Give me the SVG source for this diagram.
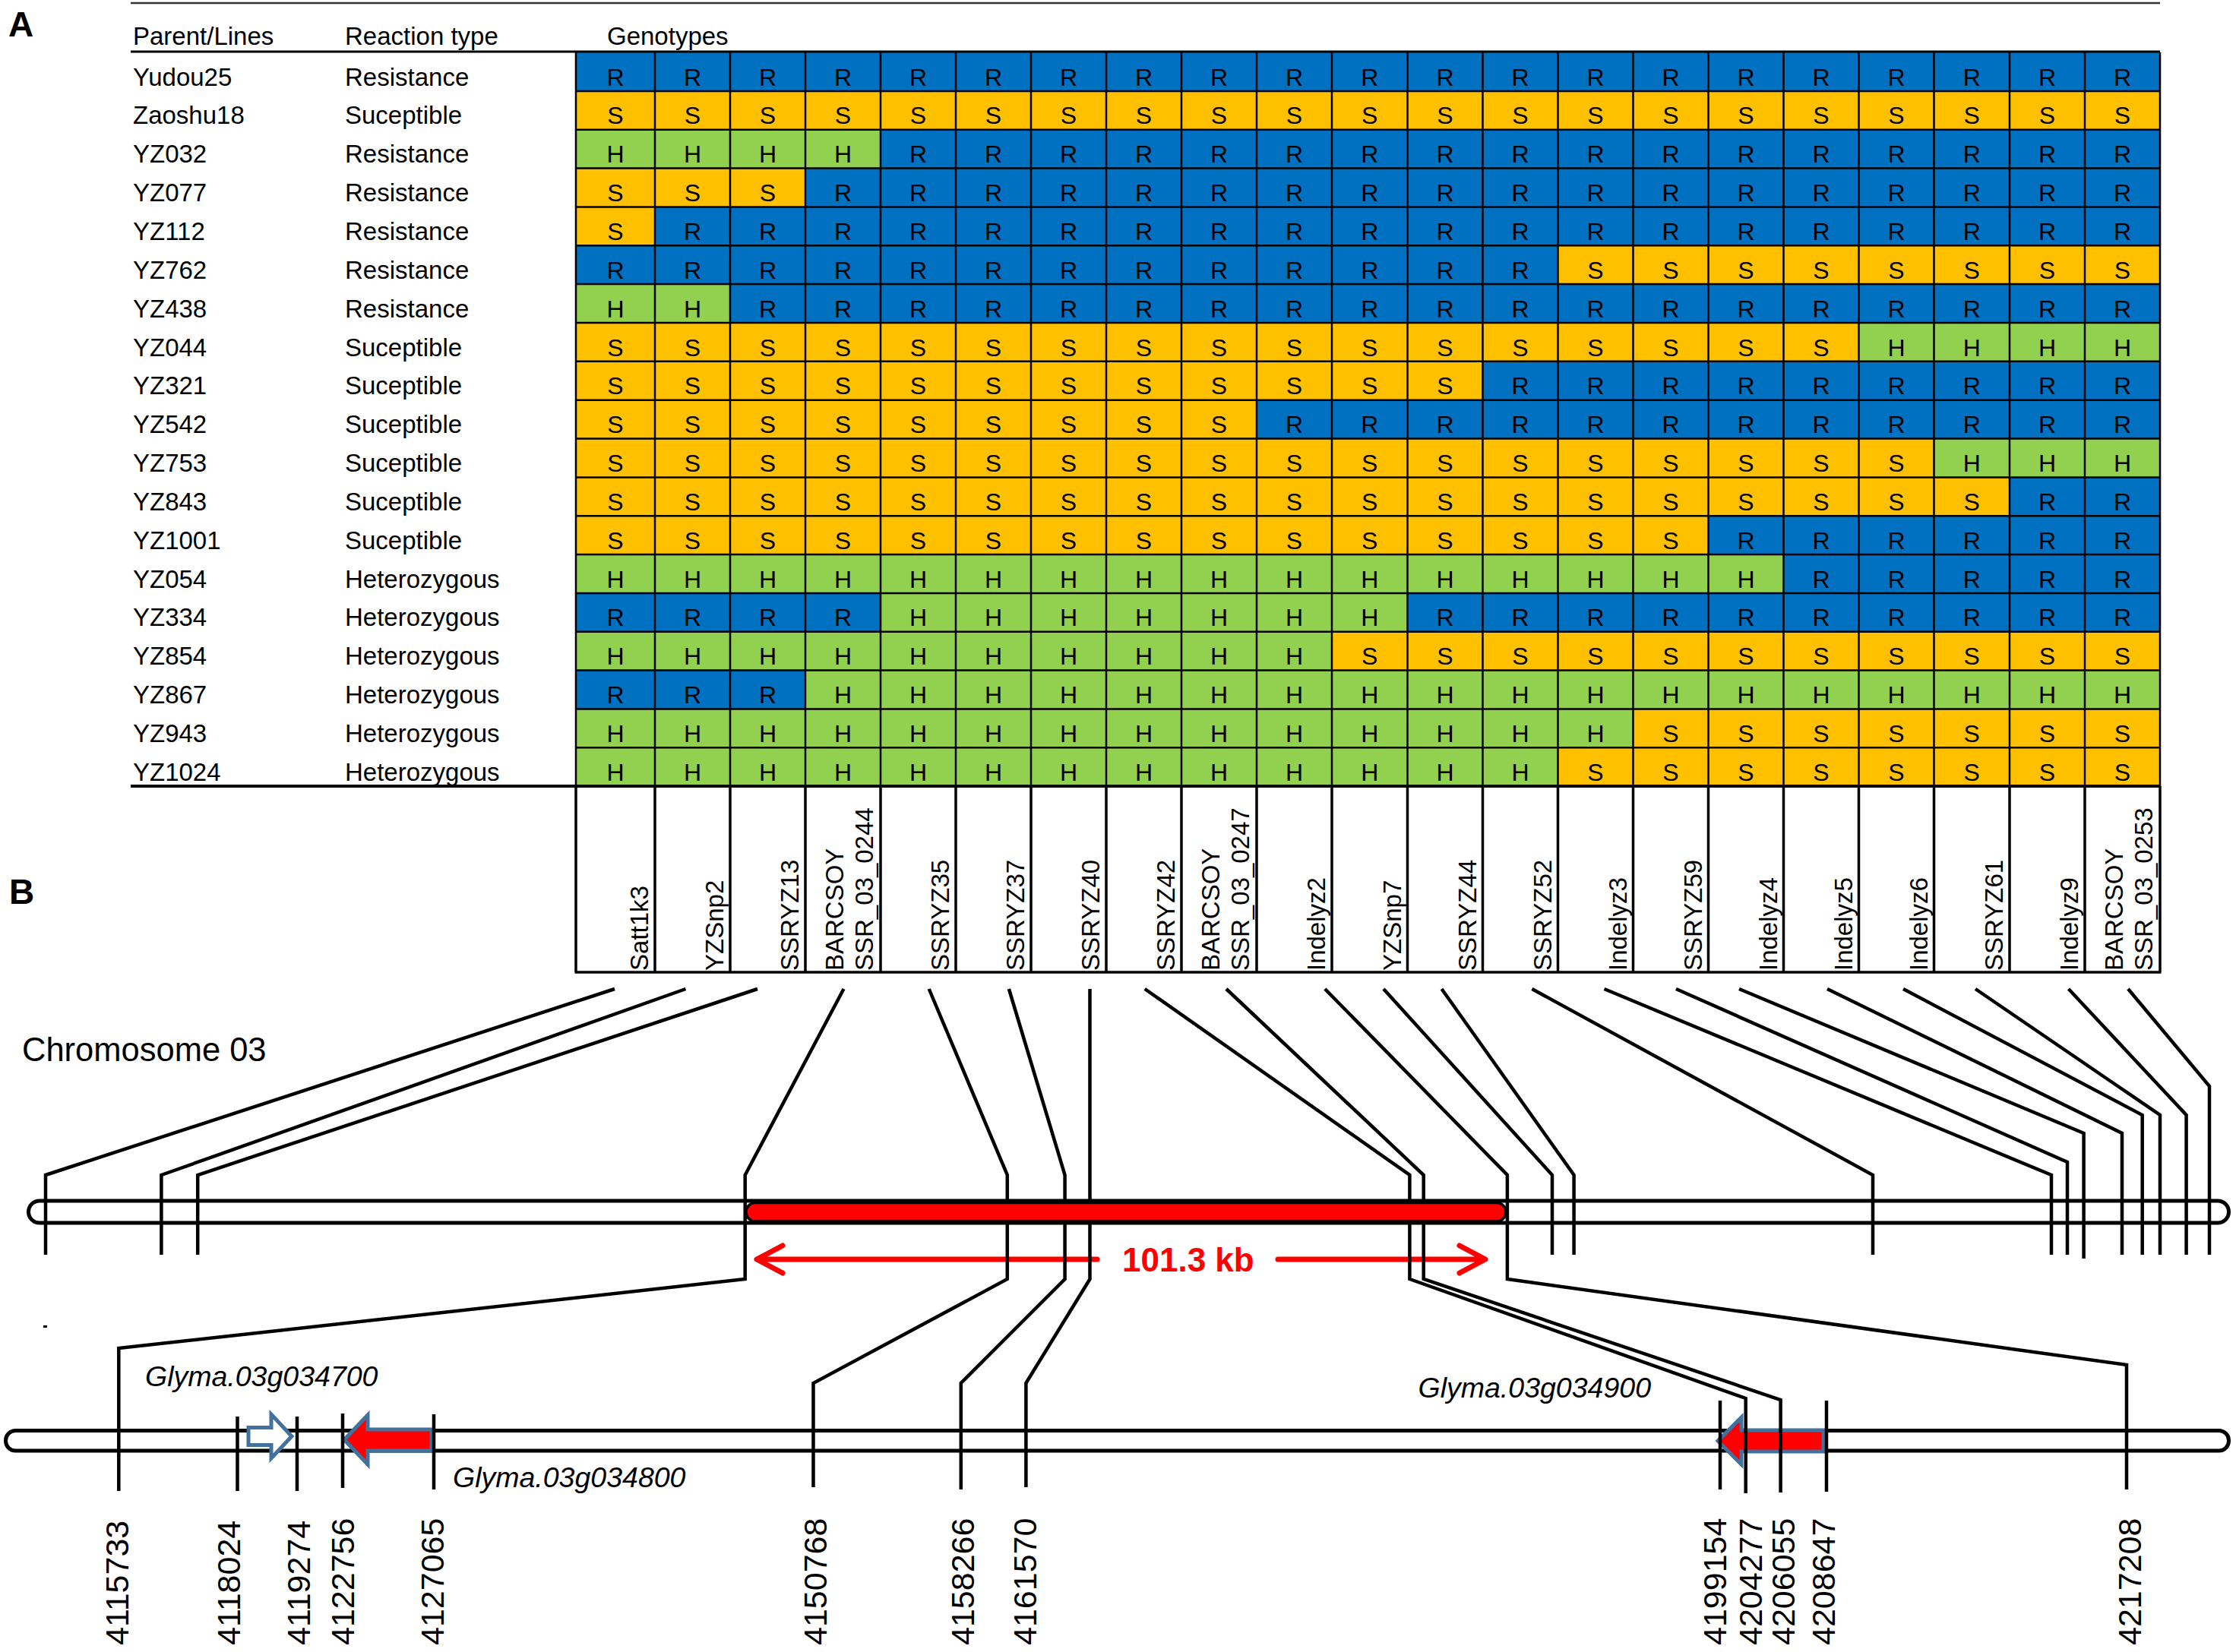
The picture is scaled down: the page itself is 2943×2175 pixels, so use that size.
<svg xmlns="http://www.w3.org/2000/svg" width="2943" height="2175" viewBox="0 0 2943 2175">
<style>
text{font-family:"Liberation Sans",Arial,sans-serif;fill:#000}
.lbl{font-size:33px}
.cell{font-size:32px;text-anchor:middle}
.mk{font-size:33px}
.pos{font-size:43px}
.gene{font-size:37.5px;font-style:italic}
.R{fill:#0070C0}.S{fill:#FFC000}.H{fill:#92D050}
.conn{fill:none;stroke:#000;stroke-width:4.5;stroke-linejoin:miter}
.grid{fill:none;stroke:#000;stroke-width:2.5}
.gene-arrow{stroke:#41719C;stroke-width:5;stroke-linejoin:miter}
</style>
<rect width="2943" height="2175" fill="#fff"/>
<text x="11" y="48" style="font-size:46px;font-weight:bold">A</text>
<text x="12" y="1190" style="font-size:46px;font-weight:bold">B</text>
<g id="header">
<line x1="172" y1="4" x2="2843" y2="4" stroke="#333" stroke-width="2.5"/>
<text class="lbl" x="175" y="59">Parent/Lines</text>
<text class="lbl" x="454" y="59">Reaction type</text>
<text class="lbl" x="799" y="59">Genotypes</text>
</g>
<g id="r1"><rect class="R" x="758" y="69" width="2085" height="50.9"/><text class="cell" x="810 911.5 1010.5 1109.5 1208.5 1307.5 1406.5 1505.5 1604.5 1703.5 1802.75 1902 2001 2100 2199 2298 2397 2496 2595.25 2694.5 2793.5" y="112.5">RRRRRRRRRRRRRRRRRRRRR</text><text class="lbl" x="175" y="112.5">Yudou25</text><text class="lbl" x="454" y="112.5">Resistance</text></g>
<g id="r2"><rect class="S" x="758" y="119.9" width="2085" height="50.9"/><text class="cell" x="810 911.5 1010.5 1109.5 1208.5 1307.5 1406.5 1505.5 1604.5 1703.5 1802.75 1902 2001 2100 2199 2298 2397 2496 2595.25 2694.5 2793.5" y="163.4">SSSSSSSSSSSSSSSSSSSSS</text><text class="lbl" x="175" y="163.4">Zaoshu18</text><text class="lbl" x="454" y="163.4">Suceptible</text></g>
<g id="r3"><rect class="H" x="758" y="170.7" width="401" height="50.9"/><rect class="R" x="1159" y="170.7" width="1684" height="50.9"/><text class="cell" x="810 911.5 1010.5 1109.5 1208.5 1307.5 1406.5 1505.5 1604.5 1703.5 1802.75 1902 2001 2100 2199 2298 2397 2496 2595.25 2694.5 2793.5" y="214.2">HHHHRRRRRRRRRRRRRRRRR</text><text class="lbl" x="175" y="214.2">YZ032</text><text class="lbl" x="454" y="214.2">Resistance</text></g>
<g id="r4"><rect class="S" x="758" y="221.6" width="302" height="50.9"/><rect class="R" x="1060" y="221.6" width="1783" height="50.9"/><text class="cell" x="810 911.5 1010.5 1109.5 1208.5 1307.5 1406.5 1505.5 1604.5 1703.5 1802.75 1902 2001 2100 2199 2298 2397 2496 2595.25 2694.5 2793.5" y="265.1">SSSRRRRRRRRRRRRRRRRRR</text><text class="lbl" x="175" y="265.1">YZ077</text><text class="lbl" x="454" y="265.1">Resistance</text></g>
<g id="r5"><rect class="S" x="758" y="272.4" width="104" height="50.9"/><rect class="R" x="862" y="272.4" width="1981" height="50.9"/><text class="cell" x="810 911.5 1010.5 1109.5 1208.5 1307.5 1406.5 1505.5 1604.5 1703.5 1802.75 1902 2001 2100 2199 2298 2397 2496 2595.25 2694.5 2793.5" y="315.9">SRRRRRRRRRRRRRRRRRRRR</text><text class="lbl" x="175" y="315.9">YZ112</text><text class="lbl" x="454" y="315.9">Resistance</text></g>
<g id="r6"><rect class="R" x="758" y="323.3" width="1292.5" height="50.9"/><rect class="S" x="2050.5" y="323.3" width="792.5" height="50.9"/><text class="cell" x="810 911.5 1010.5 1109.5 1208.5 1307.5 1406.5 1505.5 1604.5 1703.5 1802.75 1902 2001 2100 2199 2298 2397 2496 2595.25 2694.5 2793.5" y="366.8">RRRRRRRRRRRRRSSSSSSSS</text><text class="lbl" x="175" y="366.8">YZ762</text><text class="lbl" x="454" y="366.8">Resistance</text></g>
<g id="r7"><rect class="H" x="758" y="374.1" width="203" height="50.9"/><rect class="R" x="961" y="374.1" width="1882" height="50.9"/><text class="cell" x="810 911.5 1010.5 1109.5 1208.5 1307.5 1406.5 1505.5 1604.5 1703.5 1802.75 1902 2001 2100 2199 2298 2397 2496 2595.25 2694.5 2793.5" y="417.6">HHRRRRRRRRRRRRRRRRRRR</text><text class="lbl" x="175" y="417.6">YZ438</text><text class="lbl" x="454" y="417.6">Resistance</text></g>
<g id="r8"><rect class="S" x="758" y="425" width="1688.5" height="50.9"/><rect class="H" x="2446.5" y="425" width="396.5" height="50.9"/><text class="cell" x="810 911.5 1010.5 1109.5 1208.5 1307.5 1406.5 1505.5 1604.5 1703.5 1802.75 1902 2001 2100 2199 2298 2397 2496 2595.25 2694.5 2793.5" y="468.5">SSSSSSSSSSSSSSSSSHHHH</text><text class="lbl" x="175" y="468.5">YZ044</text><text class="lbl" x="454" y="468.5">Suceptible</text></g>
<g id="r9"><rect class="S" x="758" y="475.8" width="1193.5" height="50.9"/><rect class="R" x="1951.5" y="475.8" width="891.5" height="50.9"/><text class="cell" x="810 911.5 1010.5 1109.5 1208.5 1307.5 1406.5 1505.5 1604.5 1703.5 1802.75 1902 2001 2100 2199 2298 2397 2496 2595.25 2694.5 2793.5" y="519.3">SSSSSSSSSSSSRRRRRRRRR</text><text class="lbl" x="175" y="519.3">YZ321</text><text class="lbl" x="454" y="519.3">Suceptible</text></g>
<g id="r10"><rect class="S" x="758" y="526.7" width="896" height="50.9"/><rect class="R" x="1654" y="526.7" width="1189" height="50.9"/><text class="cell" x="810 911.5 1010.5 1109.5 1208.5 1307.5 1406.5 1505.5 1604.5 1703.5 1802.75 1902 2001 2100 2199 2298 2397 2496 2595.25 2694.5 2793.5" y="570.2">SSSSSSSSSRRRRRRRRRRRR</text><text class="lbl" x="175" y="570.2">YZ542</text><text class="lbl" x="454" y="570.2">Suceptible</text></g>
<g id="r11"><rect class="S" x="758" y="577.5" width="1787.5" height="50.9"/><rect class="H" x="2545.5" y="577.5" width="297.5" height="50.9"/><text class="cell" x="810 911.5 1010.5 1109.5 1208.5 1307.5 1406.5 1505.5 1604.5 1703.5 1802.75 1902 2001 2100 2199 2298 2397 2496 2595.25 2694.5 2793.5" y="621">SSSSSSSSSSSSSSSSSSHHH</text><text class="lbl" x="175" y="621">YZ753</text><text class="lbl" x="454" y="621">Suceptible</text></g>
<g id="r12"><rect class="S" x="758" y="628.4" width="1887" height="50.9"/><rect class="R" x="2645" y="628.4" width="198" height="50.9"/><text class="cell" x="810 911.5 1010.5 1109.5 1208.5 1307.5 1406.5 1505.5 1604.5 1703.5 1802.75 1902 2001 2100 2199 2298 2397 2496 2595.25 2694.5 2793.5" y="671.9">SSSSSSSSSSSSSSSSSSSRR</text><text class="lbl" x="175" y="671.9">YZ843</text><text class="lbl" x="454" y="671.9">Suceptible</text></g>
<g id="r13"><rect class="S" x="758" y="679.2" width="1490.5" height="50.9"/><rect class="R" x="2248.5" y="679.2" width="594.5" height="50.9"/><text class="cell" x="810 911.5 1010.5 1109.5 1208.5 1307.5 1406.5 1505.5 1604.5 1703.5 1802.75 1902 2001 2100 2199 2298 2397 2496 2595.25 2694.5 2793.5" y="722.7">SSSSSSSSSSSSSSSRRRRRR</text><text class="lbl" x="175" y="722.7">YZ1001</text><text class="lbl" x="454" y="722.7">Suceptible</text></g>
<g id="r14"><rect class="H" x="758" y="730.1" width="1589.5" height="50.9"/><rect class="R" x="2347.5" y="730.1" width="495.5" height="50.9"/><text class="cell" x="810 911.5 1010.5 1109.5 1208.5 1307.5 1406.5 1505.5 1604.5 1703.5 1802.75 1902 2001 2100 2199 2298 2397 2496 2595.25 2694.5 2793.5" y="773.6">HHHHHHHHHHHHHHHHRRRRR</text><text class="lbl" x="175" y="773.6">YZ054</text><text class="lbl" x="454" y="773.6">Heterozygous</text></g>
<g id="r15"><rect class="R" x="758" y="780.9" width="401" height="50.9"/><rect class="H" x="1159" y="780.9" width="693.5" height="50.9"/><rect class="R" x="1852.5" y="780.9" width="990.5" height="50.9"/><text class="cell" x="810 911.5 1010.5 1109.5 1208.5 1307.5 1406.5 1505.5 1604.5 1703.5 1802.75 1902 2001 2100 2199 2298 2397 2496 2595.25 2694.5 2793.5" y="824.4">RRRRHHHHHHHRRRRRRRRRR</text><text class="lbl" x="175" y="824.4">YZ334</text><text class="lbl" x="454" y="824.4">Heterozygous</text></g>
<g id="r16"><rect class="H" x="758" y="831.8" width="995" height="50.9"/><rect class="S" x="1753" y="831.8" width="1090" height="50.9"/><text class="cell" x="810 911.5 1010.5 1109.5 1208.5 1307.5 1406.5 1505.5 1604.5 1703.5 1802.75 1902 2001 2100 2199 2298 2397 2496 2595.25 2694.5 2793.5" y="875.3">HHHHHHHHHHSSSSSSSSSSS</text><text class="lbl" x="175" y="875.3">YZ854</text><text class="lbl" x="454" y="875.3">Heterozygous</text></g>
<g id="r17"><rect class="R" x="758" y="882.6" width="302" height="50.9"/><rect class="H" x="1060" y="882.6" width="1783" height="50.9"/><text class="cell" x="810 911.5 1010.5 1109.5 1208.5 1307.5 1406.5 1505.5 1604.5 1703.5 1802.75 1902 2001 2100 2199 2298 2397 2496 2595.25 2694.5 2793.5" y="926.1">RRRHHHHHHHHHHHHHHHHHH</text><text class="lbl" x="175" y="926.1">YZ867</text><text class="lbl" x="454" y="926.1">Heterozygous</text></g>
<g id="r18"><rect class="H" x="758" y="933.5" width="1391.5" height="50.9"/><rect class="S" x="2149.5" y="933.5" width="693.5" height="50.9"/><text class="cell" x="810 911.5 1010.5 1109.5 1208.5 1307.5 1406.5 1505.5 1604.5 1703.5 1802.75 1902 2001 2100 2199 2298 2397 2496 2595.25 2694.5 2793.5" y="977">HHHHHHHHHHHHHHSSSSSSS</text><text class="lbl" x="175" y="977">YZ943</text><text class="lbl" x="454" y="977">Heterozygous</text></g>
<g id="r19"><rect class="H" x="758" y="984.3" width="1292.5" height="50.9"/><rect class="S" x="2050.5" y="984.3" width="792.5" height="50.9"/><text class="cell" x="810 911.5 1010.5 1109.5 1208.5 1307.5 1406.5 1505.5 1604.5 1703.5 1802.75 1902 2001 2100 2199 2298 2397 2496 2595.25 2694.5 2793.5" y="1027.8">HHHHHHHHHHHHHSSSSSSSS</text><text class="lbl" x="175" y="1027.8">YZ1024</text><text class="lbl" x="454" y="1027.8">Heterozygous</text></g>
<g id="grid">
<path class="grid" d="M758 69V1035M862 69V1035M961 69V1035M1060 69V1035M1159 69V1035M1258 69V1035M1357 69V1035M1456 69V1035M1555 69V1035M1654 69V1035M1753 69V1035M1852.5 69V1035M1951.5 69V1035M2050.5 69V1035M2149.5 69V1035M2248.5 69V1035M2347.5 69V1035M2446.5 69V1035M2545.5 69V1035M2645 69V1035M2744 69V1035M2843 69V1035M758 119.9H2843M758 170.7H2843M758 221.6H2843M758 272.4H2843M758 323.3H2843M758 374.1H2843M758 425H2843M758 475.8H2843M758 526.7H2843M758 577.5H2843M758 628.4H2843M758 679.2H2843M758 730.1H2843M758 780.9H2843M758 831.8H2843M758 882.6H2843M758 933.5H2843M758 984.3H2843"/>
<path fill="none" stroke="#000" stroke-width="3.5" d="M758 1035V1280M862 1035V1280M961 1035V1280M1060 1035V1280M1159 1035V1280M1258 1035V1280M1357 1035V1280M1456 1035V1280M1555 1035V1280M1654 1035V1280M1753 1035V1280M1852.5 1035V1280M1951.5 1035V1280M2050.5 1035V1280M2149.5 1035V1280M2248.5 1035V1280M2347.5 1035V1280M2446.5 1035V1280M2545.5 1035V1280M2645 1035V1280M2744 1035V1280M2843 1035V1280M756.5 1280H2844.5"/>
<line x1="172" y1="68" x2="2843" y2="68" stroke="#000" stroke-width="3"/>
<line x1="172" y1="1035" x2="2843" y2="1035" stroke="#000" stroke-width="4"/>
</g>
<g id="markers">
<g id="m1"><text class="mk" transform="translate(853,1278) rotate(-90)">Satt1k3</text></g>
<g id="m2"><text class="mk" transform="translate(952,1278) rotate(-90)">YZSnp2</text></g>
<g id="m3"><text class="mk" transform="translate(1051,1278) rotate(-90)">SSRYZ13</text></g>
<g id="m4"><text class="mk" transform="translate(1110,1278) rotate(-90)">BARCSOY</text><text class="mk" transform="translate(1149,1278) rotate(-90)">SSR_03_0244</text></g>
<g id="m5"><text class="mk" transform="translate(1249,1278) rotate(-90)">SSRYZ35</text></g>
<g id="m6"><text class="mk" transform="translate(1348,1278) rotate(-90)">SSRYZ37</text></g>
<g id="m7"><text class="mk" transform="translate(1447,1278) rotate(-90)">SSRYZ40</text></g>
<g id="m8"><text class="mk" transform="translate(1546,1278) rotate(-90)">SSRYZ42</text></g>
<g id="m9"><text class="mk" transform="translate(1605,1278) rotate(-90)">BARCSOY</text><text class="mk" transform="translate(1644,1278) rotate(-90)">SSR_03_0247</text></g>
<g id="m10"><text class="mk" transform="translate(1744,1278) rotate(-90)">Indelyz2</text></g>
<g id="m11"><text class="mk" transform="translate(1843.5,1278) rotate(-90)">YZSnp7</text></g>
<g id="m12"><text class="mk" transform="translate(1942.5,1278) rotate(-90)">SSRYZ44</text></g>
<g id="m13"><text class="mk" transform="translate(2041.5,1278) rotate(-90)">SSRYZ52</text></g>
<g id="m14"><text class="mk" transform="translate(2140.5,1278) rotate(-90)">Indelyz3</text></g>
<g id="m15"><text class="mk" transform="translate(2239.5,1278) rotate(-90)">SSRYZ59</text></g>
<g id="m16"><text class="mk" transform="translate(2338.5,1278) rotate(-90)">Indelyz4</text></g>
<g id="m17"><text class="mk" transform="translate(2437.5,1278) rotate(-90)">Indelyz5</text></g>
<g id="m18"><text class="mk" transform="translate(2536.5,1278) rotate(-90)">Indelyz6</text></g>
<g id="m19"><text class="mk" transform="translate(2636,1278) rotate(-90)">SSRYZ61</text></g>
<g id="m20"><text class="mk" transform="translate(2735,1278) rotate(-90)">Indelyz9</text></g>
<g id="m21"><text class="mk" transform="translate(2794,1278) rotate(-90)">BARCSOY</text><text class="mk" transform="translate(2833,1278) rotate(-90)">SSR_03_0253</text></g>
</g>
<g id="chromosome">
<text x="29" y="1397" style="font-size:43.5px">Chromosome 03</text>
<rect x="37.5" y="1581" width="2896" height="29" rx="14.5" fill="#fff" stroke="#000" stroke-width="5"/>
</g>
<g id="gene-map">
<rect x="7.5" y="1883.5" width="2926" height="26.5" rx="13" fill="#fff" stroke="#000" stroke-width="5"/>
<rect x="57" y="1745" width="5" height="3" fill="#000"/>
<polygon class="gene-arrow" fill="#fff" points="327,1879.5 357,1879.5 357,1862 384,1891 357,1920 357,1902.5 327,1902.5"/>
<polygon class="gene-arrow" fill="#f00" points="568,1882 484,1882 484,1863 453,1895.5 484,1928 484,1910 568,1910"/>
<polygon class="gene-arrow" fill="#f00" points="2400,1883 2292,1883 2292,1866 2261,1897 2292,1928 2292,1911 2400,1911"/>
<text class="gene" x="191" y="1825">Glyma.03g034700</text>
<text class="gene" x="596" y="1958">Glyma.03g034800</text>
<text class="gene" x="2173" y="1840" text-anchor="end">Glyma.03g034900</text>
</g>
<g id="interval">
<path d="M1444 1658H998M1030 1640L996 1658L1030 1676M1682 1658H1953M1921 1640L1955 1658L1921 1676" fill="none" stroke="#f00" stroke-width="7" stroke-linecap="round" stroke-linejoin="round"/>
<text x="1477" y="1674" style="font-size:44px;font-weight:bold;fill:#f00">101.3 kb</text>
</g>
<g id="connectors">
<polyline class="conn" points="809,1302 60,1547 60,1652"/>
<polyline class="conn" points="902.5,1302 212.4,1547 212.4,1652"/>
<polyline class="conn" points="997,1302 260.2,1547 260.2,1652"/>
<polyline class="conn" points="1110.5,1302 980.7,1547 980.7,1684 156.3,1775 156.3,1963"/>
<polyline class="conn" points="1222.7,1302 1325.8,1547 1325.8,1684 1070.5,1821 1070.5,1958"/>
<polyline class="conn" points="1327.9,1302 1401.6,1547 1401.6,1684 1264.8,1821 1264.8,1961"/>
<polyline class="conn" points="1434.5,1302 1434.5,1684 1350.4,1821 1350.4,1958"/>
<polyline class="conn" points="1506.8,1302 1855.4,1547 1855.4,1684 2297.7,1841 2297.7,1966"/>
<polyline class="conn" points="1614,1302 1873.7,1547 1873.7,1684 2343.6,1843 2343.6,1965"/>
<polyline class="conn" points="1743.9,1302 1983.9,1547 1983.9,1684 2799,1797 2799,1961"/>
<polyline class="conn" points="1821,1302 2043,1547 2043,1652"/>
<polyline class="conn" points="1897.5,1302 2071.6,1547 2071.6,1652"/>
<polyline class="conn" points="2016.4,1302 2465,1547 2465,1652"/>
<polyline class="conn" points="2111.5,1302 2700,1547 2700,1652"/>
<polyline class="conn" points="2206,1302 2721,1530 2721,1652"/>
<polyline class="conn" points="2289,1302 2742.6,1492 2742.6,1657"/>
<polyline class="conn" points="2405,1302 2793,1492 2793,1652"/>
<polyline class="conn" points="2505,1302 2819.7,1468 2819.7,1652"/>
<polyline class="conn" points="2600,1302 2843,1468 2843,1652"/>
<polyline class="conn" points="2722.6,1302 2877.6,1468 2877.6,1652"/>
<polyline class="conn" points="2801,1302 2908,1430 2908,1652"/>
<path class="conn" d="M312.5 1865V1963M391 1865V1963M451 1861V1959M571 1862V1961M2264 1844V1961M2404 1844V1964"/>
</g>
<g id="red-region">
<rect x="982" y="1583.5" width="1000" height="24.5" rx="12" fill="#f00" stroke="#000" stroke-width="3.5"/>
</g>
<g id="positions">
<text class="pos" transform="translate(169,2166) rotate(-90)">4115733</text>
<text class="pos" transform="translate(316,2166) rotate(-90)">4118024</text>
<text class="pos" transform="translate(408,2166) rotate(-90)">4119274</text>
<text class="pos" transform="translate(466,2166) rotate(-90)">4122756</text>
<text class="pos" transform="translate(584,2166) rotate(-90)">4127065</text>
<text class="pos" transform="translate(1088,2166) rotate(-90)">4150768</text>
<text class="pos" transform="translate(1282,2166) rotate(-90)">4158266</text>
<text class="pos" transform="translate(1364,2166) rotate(-90)">4161570</text>
<text class="pos" transform="translate(2272,2166) rotate(-90)">4199154</text>
<text class="pos" transform="translate(2319,2166) rotate(-90)">4204277</text>
<text class="pos" transform="translate(2362,2166) rotate(-90)">4206055</text>
<text class="pos" transform="translate(2415,2166) rotate(-90)">4208647</text>
<text class="pos" transform="translate(2818,2166) rotate(-90)">4217208</text>
</g>
</svg>
